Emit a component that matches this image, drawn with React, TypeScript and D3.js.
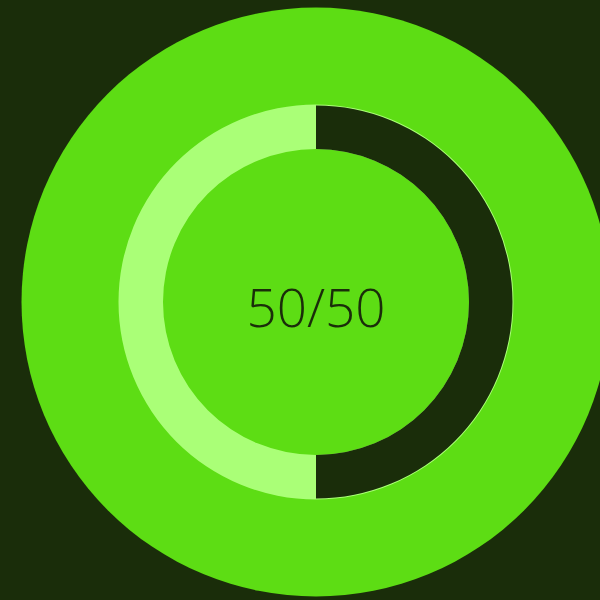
import React from 'react';
import * as d3 from 'd3';

// progress values
const labels = ['50/50'];
const doneValues = [50];
const totalValues = [50];
const shownValues = [25]; // filled part of the ring (half of it)

const width = 600;
const height = 600;
const cx = 316;
const cy = 302;

const App = () => {
  const angle = d3.scaleLinear().domain([0, totalValues[0]]).range([0, 2 * Math.PI]);

  const track = d3.arc()({
    innerRadius: 153,
    outerRadius: 197.5,
    startAngle: 0,
    endAngle: 2 * Math.PI,
  } as any) as string;

  // dark arc a hair smaller, leaves the thin light edge on the right
  const filled = d3.arc()({
    innerRadius: 153,
    outerRadius: 196.5,
    startAngle: 0,
    endAngle: angle(shownValues[0]),
  } as any) as string;

  return (
    <svg
      width={width}
      height={height}
      style={{ position: 'absolute', left: 0, top: 0, background: '#1a2d0a' }}
    >
      <rect width={width} height={height} fill="#1a2d0a" />
      <circle cx={cx} cy={cy} r={294.5} fill="#5ddd14" />
      <g transform={`translate(${cx},${cy})`}>
        <path d={track} fill="#aaff77" />
        <path d={filled} fill="#1a2d0a" />
        <text
          y={25}
          textAnchor="middle"
          fill="#1a2d0a"
          style={{ fontFamily: '"Open Sans", sans-serif', fontSize: '53px', fontWeight: 300 }}
        >
          {labels[0] ?? `${doneValues[0]}/${totalValues[0]}`}
        </text>
      </g>
    </svg>
  );
};

export default App;
